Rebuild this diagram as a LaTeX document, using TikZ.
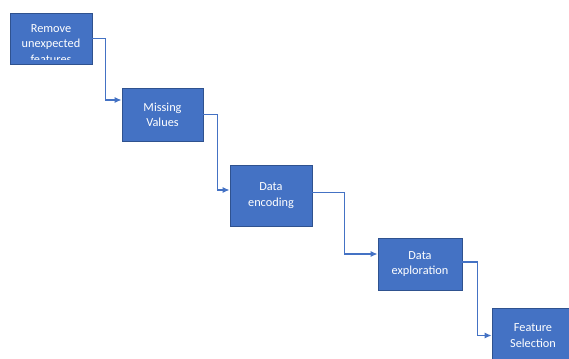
\documentclass[tikz,border=0pt]{standalone}
\usepackage{fontspec}
\setmainfont{Carlito}
\usetikzlibrary{arrows.meta}

\definecolor{stepblue}{HTML}{4472C4}
\definecolor{stepedge}{HTML}{2F528F}

\tikzset{
    stage/.style={draw=stepedge,fill=stepblue,line width=0.4pt,inner sep=0pt,
        text=white,align=center,font=\fontsize{7}{8.7}\selectfont},
    flow/.style={draw=stepblue,line width=0.9pt,-{Latex[length=4pt,width=3.5pt]}}
}

\begin{document}
\begin{tikzpicture}
    \useasboundingbox (0,0) rectangle (11.38,-7.16) ;
    % the five steps
    \node[stage,minimum width=1.64cm,minimum height=1.02cm] (rem) at (1.02,-0.77) {} ;
    \begin{scope}
        \clip (rem.north west) rectangle (rem.east |- 0,-1.19) ;
        \node[stage,draw=none,fill=none] (remtext) at (1.02,-0.88) {Remove\\unexpected\\features} ;
    \end{scope}
    \node[stage,minimum width=1.62cm,minimum height=1.06cm] (miss) at (3.25,-2.29) {Missing\\Values} ;
    \node[stage,minimum width=1.64cm,minimum height=1.22cm] (enc) at (5.42,-3.91) {Data\\encoding} ;
    \node[stage,minimum width=1.68cm,minimum height=1.04cm] (expl) at (8.40,-5.28) {Data\\exploration} ;
    \node[stage,minimum width=1.64cm,minimum height=1.10cm] (sel) at (10.66,-6.71) {Feature\\Selection} ;
    % elbow connectors
    \draw[flow] (rem.east) -- ++(0.26,0) |- ([yshift=0.29cm]miss.west) ;
    \draw[flow] (miss.east) -- ++(0.28,0) |- ([yshift=0.11cm]enc.west) ;
    \draw[flow] ([yshift=0.06cm]enc.east) -- ++(0.64,0) |- ([yshift=0.20cm]expl.west) ;
    \draw[flow] ([yshift=0.04cm]expl.east) -- ++(0.30,0) |- (sel.west) ;
\end{tikzpicture}
\end{document}
